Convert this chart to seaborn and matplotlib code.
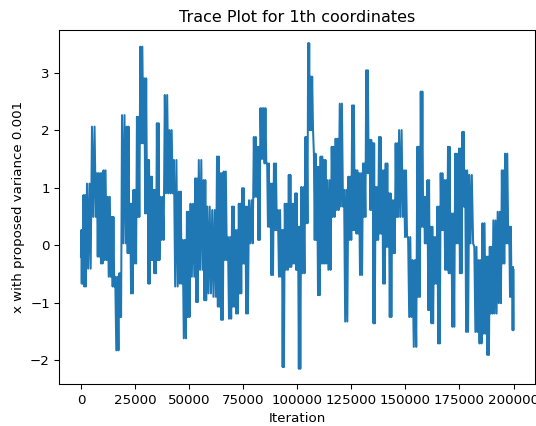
import numpy as np
import pandas as pd
import matplotlib
matplotlib.use("Agg")
import matplotlib.pyplot as plt
import seaborn as sns

# Segments of the trace (iterations in thousands)
seg_start = [0, 1.0, 2.5, 4.8, 7.2, 8.7, 10.2, 12.1, 14.1, 15.6, 17.6, 18.7, 21.0, 22.6, 24.1, 25.7,
             27.2, 29.1, 30.8, 31.9, 33.4, 34.9, 36.5, 38.5, 40.7, 42.7, 45.0, 46.8, 48.8, 50.4,
             52.7, 54.2, 56.5, 58.1, 60.4, 62.7, 64.3, 65.8, 67.7, 69.7, 71.2, 72.8, 74.3, 75.8,
             77.4, 79.7, 81.5, 82.8, 84.3, 85.9, 87.4, 89.0, 90.8, 92.8, 94.0, 95.9, 97.4, 99.0,
             100.2, 101.6, 103.6, 104.9, 105.9, 107.5, 109.0, 110.6, 112.1, 113.6, 115.7, 117.5,
             119.4, 121.4, 123.4, 125.2, 126.8, 128.3, 130.2, 131.7, 133.2, 134.8, 136.0, 137.6,
             139.1, 140.7, 142.2, 143.7, 145.3, 146.8, 149.1, 151.0, 153.0, 155.3, 156.9, 158.4,
             160.0, 161.5, 163.0, 164.6, 166.1, 167.7, 169.5, 171.0, 172.8, 174.6, 176.2, 177.4,
             179.2, 181.6, 183.6, 185.4, 187.3, 188.8, 190.4, 192.4, 194.4, 195.9, 197.8, 199.3]
seg_end = seg_start[1:] + [200.0]

seg_top = [0.26, 0.87, 1.07, 2.06, 1.25, 1.25, 1.30, 0.84, 0.49, -0.55, -0.49, 2.26, 2.06, 0.72, 0.96, 2.23,
           3.45, 2.90, 1.48, 1.19, 0.96, 2.12, 0.84, 2.61, 2.00, 1.48, 0.93, 0.09, 0.58, 0.72,
           1.16, 1.48, 1.13, 0.67, 0.61, 1.54, 1.25, 1.28, 0.14, 0.67, 0.26, 0.72, 0.99, 0.67,
           0.78, 1.88, 1.71, 2.38, 2.38, 1.42, 1.07, 1.42, 0.61, 0.26, 0.72, 1.22, 0.72, 0.90,
           0.32, 1.01, 1.88, 3.51, 2.93, 1.59, 1.36, 1.54, 1.48, 1.13, 1.71, 1.85,
           2.46, 0.96, 1.19, 2.43, 1.30, 1.25, 1.42, 3.04, 1.83, 1.77, 1.01, 1.88,
           1.30, 1.42, 0.90, 0.78, 1.77, 2.00, 1.30, 0.14, -0.26, 1.71, 2.67, 0.84,
           1.13, 0.32, 0.14, 0.67, 1.25, 1.13, 1.71, 0.55, 1.59, 1.68, 1.97, 1.30,
           1.22, -0.03, -0.26, 0.38, -0.20, -0.03, 0.43, 0.58, 1.30, 1.59, 0.32, -0.38]

seg_bottom = [-0.67, -0.72, -0.41, 0.49, -0.20, -0.32, -0.26, -0.55, -0.72, -1.83, -1.25, 0.03, -0.14, -0.84, -0.32, 0.49,
              1.77, 0.55, -0.67, -0.26, -0.49, -0.26, 0.09, 0.90, 0.90, -0.72, -0.67, -1.62, -1.25, -0.55,
              -0.99, -0.43, -0.96, -0.84, -0.90, -1.07, -1.30, -0.26, -1.28, -1.07, -1.19, -0.84, -0.32, -1.19,
              0.03, 0.84, 0.09, 1.50, 1.42, 0.32, -0.52, 0.26, -0.55, -2.12, -0.43, -0.38, -0.32, -0.43,
              -2.15, -0.49, 0.38, 2.00, 2.00, 0.09, -0.87, -0.32, -0.32, -0.43, 0.49, 0.61,
              0.67, -1.33, 0.09, 0.26, 0.20, -0.52, 0.49, 1.25, 0.61, -1.36, 0.09, 0.20,
              -0.67, -0.03, -1.25, -0.14, 0.49, 0.49, 0.14, -1.25, -1.77, -0.90, 0.32, 0.03,
              -1.13, -1.36, -0.67, -1.71, 0.26, -0.43, -0.49, -1.42, 0.03, -0.49, 0.67, -1.51,
              0.03, -1.51, -1.71, -1.54, -1.91, -1.19, -1.19, -1.01, -0.32, 0.03, -0.90, -1.48]

start_value = -0.20
end_value = -0.43

# Build the trace as a path sweeping between the read top and bottom of each segment
n_sweeps = 2
xs = [0.0]
ys = [start_value]
for s, e, t, b in zip(seg_start, seg_end, seg_top, seg_bottom):
    w = e - s
    for k in range(n_sweeps):
        xs += [(s + (k + 0.25) / n_sweeps * w) * 1000, (s + (k + 0.75) / n_sweeps * w) * 1000]
        ys += [t, b]
xs.append(200000.0)
ys.append(end_value)

df = pd.DataFrame({"Iteration": xs, "value": ys})

plt.rcParams.update(plt.rcParamsDefault)
fig = plt.figure(figsize=(536 / 96, 426 / 96), dpi=96)
ax = fig.add_axes([59.3 / 536, (426 - 384.3) / 426, (535.2 - 59.3) / 536, (384.3 - 30) / 426])

sns.lineplot(data=df, x="Iteration", y="value", sort=False, estimator=None,
             color="#1f77b4", linewidth=1.5, ax=ax)

ax.set_title("Trace Plot for 1th coordinates")
ax.set_xlabel("Iteration")
ax.set_ylabel("x with proposed variance 0.001")
ax.set_xlim(-10000, 210000)
ax.set_ylim(-2.42, 3.74)

fig.savefig("out.png", dpi=96)
